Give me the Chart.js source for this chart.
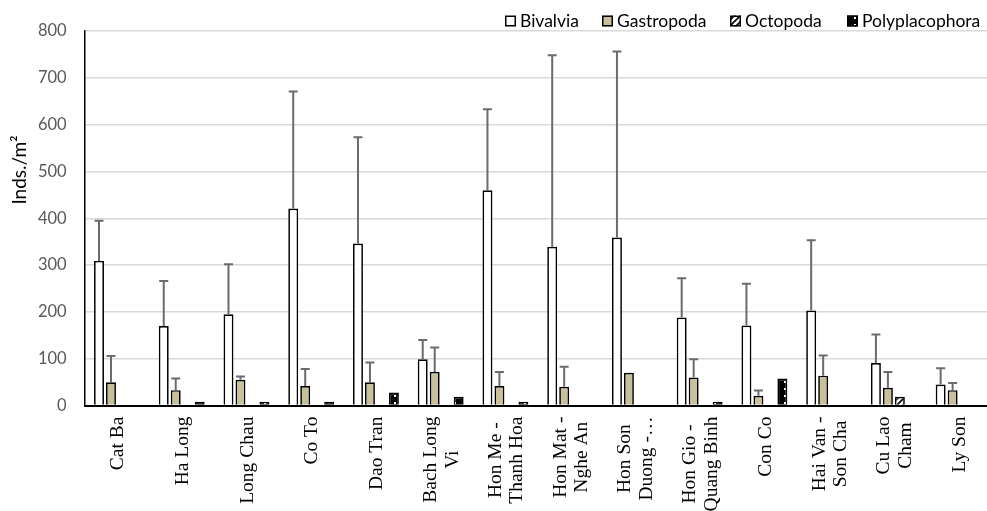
<!DOCTYPE html>
<html>
<head>
<meta charset="utf-8">
<script src="https://cdn.jsdelivr.net/npm/chart.js@4"></script>
<style>
  html, body { margin: 0; padding: 0; background: #fff; overflow: hidden; }
  #wrap { position: relative; width: 992px; height: 511px; }
</style>
</head>
<body>
<div id="wrap"><canvas id="c"></canvas></div>
<script>
// Sampling sites (multi-line labels)
const sites = [
  ["Cat Ba"], ["Ha Long"], ["Long Chau"], ["Co To"], ["Dao Tran"],
  ["Bach Long", "Vi"], ["Hon Me -", "Thanh Hoa"], ["Hon Mat -", "Nghe An"],
  ["Hon Son", "Duong -\u2026"], ["Hon Gio -", "Quang Binh"], ["Con Co"],
  ["Hai Van -", "Son Cha"], ["Cu Lao", "Cham"], ["Ly Son"]
];

// Mean density (inds./m2) per class
const bivalvia       = [309, 170, 195, 421, 346, 99, 460, 339, 359, 188, 171, 203, 91, 45];
const gastropoda     = [50, 33, 55, 42, 50, 72, 42, 40, 70, 60, 21, 64, 38, 33];
const octopoda       = [null, null, null, null, null, null, null, null, null, null, null, null, 19, null];
const polyplacophora = [null, 8, 8, 8, 28, 19, 8, null, null, 8, 58, null, null, null];

// Standard deviations (upper error bars)
const bivalviaSD   = [86, 96, 107, 250, 227, 41, 173, 409, 397, 84, 89, 150, 61, 35];
const gastropodaSD = [56, 25, 7, 36, 42, 52, 30, 43, null, 39, 11, 43, 34, 15];

// Y axis ticks
const yTicks = [0, 100, 200, 300, 400, 500, 600, 700, 800];
const yTitle = "Inds./m\u00B2";

function hatchPattern() {
  const c = document.createElement('canvas');
  c.width = 6; c.height = 6;
  const g = c.getContext('2d');
  g.fillStyle = '#fff'; g.fillRect(0, 0, 6, 6);
  g.strokeStyle = '#000'; g.lineWidth = 1.6;
  g.beginPath();
  g.moveTo(0, 6); g.lineTo(6, 0);
  g.moveTo(-3, 3); g.lineTo(3, -3);
  g.moveTo(3, 9); g.lineTo(9, 3);
  g.stroke();
  return g.createPattern(c, 'repeat');
}
function dotPattern() {
  const c = document.createElement('canvas');
  c.width = 10; c.height = 7;
  const g = c.getContext('2d');
  g.fillStyle = '#000'; g.fillRect(0, 0, 10, 7);
  g.fillStyle = '#fff'; g.fillRect(4, 3, 2, 2);
  return g.createPattern(c, 'repeat');
}

// Upper error bars for datasets carrying an "sd" array
const errorBars = {
  id: 'errorBars',
  afterDatasetsDraw(chart) {
    const ctx = chart.ctx, ys = chart.scales.y;
    chart.data.datasets.forEach((ds, di) => {
      if (!ds.sd) return;
      const meta = chart.getDatasetMeta(di);
      meta.data.forEach((bar, i) => {
        const v = ds.data[i], e = ds.sd[i];
        if (v == null || e == null) return;
        const yTop = ys.getPixelForValue(v + e);
        ctx.save();
        ctx.strokeStyle = '#6b6b6b';
        ctx.lineWidth = 2;
        ctx.beginPath();
        ctx.moveTo(bar.x, bar.y);
        ctx.lineTo(bar.x, yTop);
        ctx.moveTo(bar.x - 4.5, yTop);
        ctx.lineTo(bar.x + 4.5, yTop);
        ctx.stroke();
        ctx.restore();
      });
    });
  }
};

// Vertical site names under the axis, lines centred on each other
const siteLabels = {
  id: 'siteLabels',
  afterDraw(chart) {
    const ctx = chart.ctx, xs = chart.scales.x;
    const top = chart.chartArea.bottom + 11;
    ctx.save();
    ctx.font = '19.5px "Liberation Serif"';
    ctx.fillStyle = '#000';
    ctx.textAlign = 'center';
    ctx.textBaseline = 'middle';
    chart.data.labels.forEach((lab, i) => {
      const lines = Array.isArray(lab) ? lab : [lab];
      const w = Math.max(...lines.map(l => ctx.measureText(l).width));
      const cx = xs.getPixelForValue(i);
      lines.forEach((l, j) => {
        const off = (j - (lines.length - 1) / 2) * 21.5;
        ctx.save();
        ctx.translate(cx + off + 1, top + w / 2);
        ctx.rotate(-Math.PI / 2);
        ctx.fillText(l, 0, 0);
        ctx.restore();
      });
    });
    ctx.restore();
  }
};

// Legend row in the top right, plus the rotated y axis title
const legendRow = {
  id: 'legendRow',
  afterDraw(chart) {
    const ctx = chart.ctx;
    const boxX = [505, 602, 730, 847];
    ctx.save();
    ctx.font = '17.5px Lato';
    ctx.textBaseline = 'middle';
    ctx.textAlign = 'left';
    chart.data.datasets.forEach((ds, i) => {
      const x = boxX[i], y = 15.5;
      ctx.fillStyle = ds.backgroundColor;
      ctx.fillRect(x, y, 11, 11);
      ctx.strokeStyle = '#000';
      ctx.lineWidth = 1.5;
      ctx.strokeRect(x + 0.75, y + 0.75, 9.5, 9.5);
      ctx.fillStyle = '#000';
      ctx.fillText(ds.label, x + 15, 21);
    });
    ctx.font = '19px Lato';
    ctx.textAlign = 'center';
    ctx.translate(20, 170);
    ctx.rotate(-Math.PI / 2);
    ctx.fillText(yTitle, 0, 0);
    ctx.restore();
  }
};

const common = { borderColor: '#000', borderWidth: 1.7, barPercentage: 0.83, categoryPercentage: 0.74 };

new Chart(document.getElementById('c'), {
  type: 'bar',
  data: {
    labels: sites,
    datasets: [
      { label: 'Bivalvia', data: bivalvia, sd: bivalviaSD, backgroundColor: '#ffffff', ...common },
      { label: 'Gastropoda', data: gastropoda, sd: gastropodaSD, backgroundColor: '#c7c09b', ...common },
      { label: 'Octopoda', data: octopoda, backgroundColor: hatchPattern(), ...common },
      { label: 'Polyplacophora', data: polyplacophora, backgroundColor: dotPattern(), ...common }
    ]
  },
  options: {
    responsive: true,
    maintainAspectRatio: false,
    animation: false,
    layout: { padding: { top: 31, left: 0, right: 1, bottom: 0 } },
    plugins: { legend: { display: false }, tooltip: { enabled: false } },
    scales: {
      x: {
        grid: { display: false },
        border: { display: true, color: '#000', width: 2 },
        ticks: { display: false },
        afterFit(scale) { scale.height = 105.4; }
      },
      y: {
        min: 0, max: 800,
        afterBuildTicks(scale) { scale.ticks = yTicks.map(v => ({ value: v })); },
        grid: { color: '#d9d9d9', lineWidth: 1.5, drawTicks: false },
        border: { display: true, color: '#000', width: 1.5 },
        ticks: { padding: 18, color: '#595959', font: { family: 'Lato', size: 16.5 } },
        afterFit(scale) { scale.width = 84.6; }
      }
    }
  },
  plugins: [errorBars, siteLabels, legendRow]
});
</script>
</body>
</html>
